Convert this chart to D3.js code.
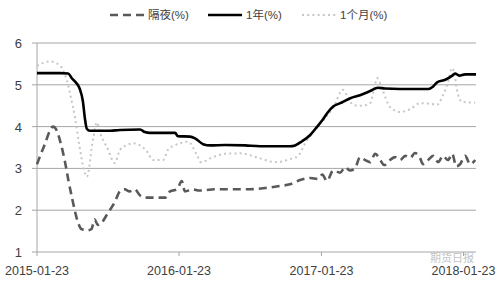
<!DOCTYPE html>
<html>
<head>
<meta charset="utf-8">
<script src="https://cdn.jsdelivr.net/npm/d3@7"></script>
<style>
  html, body { margin: 0; background: #fff; }
  text { font-family: "Liberation Sans", "Noto Sans CJK SC", sans-serif; fill: #404040; }
</style>
</head>
<body>
<script>
const width = 500;
const height = 286;

// series
const overnightDates = ['2015-01-23','2015-01-31','2015-02-13','2015-02-25','2015-03-05','2015-03-15','2015-03-25','2015-04-04','2015-04-14','2015-04-24','2015-05-07','2015-05-17','2015-06-02','2015-06-12','2015-06-20','2015-06-28','2015-07-08','2015-07-22','2015-08-11','2015-08-24','2015-09-05','2015-09-18','2015-10-01','2015-10-15','2015-10-27','2015-12-18','2015-12-31','2016-01-18','2016-01-30','2016-02-07','2016-02-27','2016-03-15','2016-04-23','2016-06-01','2016-07-22','2016-08-31','2016-10-08','2016-11-03','2016-11-29','2016-12-25','2017-01-14','2017-01-25','2017-02-06','2017-02-22','2017-03-12','2017-03-25','2017-04-06','2017-04-19','2017-05-02','2017-05-15','2017-05-28','2017-06-10','2017-06-23','2017-07-03','2017-07-18','2017-07-31','2017-08-13','2017-08-26','2017-09-08','2017-09-20','2017-10-03','2017-10-11','2017-10-24','2017-11-06','2017-11-19','2017-12-01','2017-12-14','2017-12-25','2018-01-04','2018-01-14','2018-01-27','2018-02-09','2018-02-22'];
const overnight = [3.1,3.3,3.6,3.9,4.0,3.9,3.6,3.2,2.7,2.25,1.75,1.55,1.52,1.55,1.78,1.65,1.7,1.9,2.2,2.45,2.5,2.45,2.5,2.35,2.3,2.3,2.45,2.5,2.7,2.45,2.5,2.47,2.5,2.5,2.5,2.53,2.58,2.62,2.72,2.77,2.75,2.85,2.7,2.95,2.9,3.03,2.95,3.0,3.27,3.2,3.15,3.35,3.2,3.08,3.2,3.27,3.2,3.3,3.25,3.37,3.25,3.1,3.2,3.3,3.15,3.3,3.2,3.35,3.05,3.1,3.3,3.1,3.2];

const oneYearDates = ['2015-01-23','2015-03-23','2015-04-13','2015-04-23','2015-05-06','2015-05-13','2015-05-21','2015-05-26','2015-05-31','2015-06-08','2015-07-30','2015-08-24','2015-10-15','2015-10-27','2015-11-09','2016-01-13','2016-01-20','2016-02-20','2016-03-04','2016-03-25','2016-04-12','2016-05-20','2016-07-11','2016-08-18','2016-11-03','2016-11-16','2016-12-04','2016-12-25','2017-01-12','2017-01-25','2017-02-09','2017-02-22','2017-03-12','2017-04-07','2017-05-02','2017-05-28','2017-06-17','2017-07-05','2017-08-13','2017-10-24','2017-11-06','2017-11-16','2017-12-07','2017-12-25','2018-01-01','2018-01-12','2018-01-27','2018-02-24'];
const oneYear = [5.28,5.28,5.27,5.15,5.02,4.9,4.6,4.2,3.95,3.9,3.9,3.92,3.93,3.87,3.85,3.85,3.77,3.76,3.72,3.58,3.55,3.56,3.55,3.53,3.53,3.55,3.65,3.8,4.0,4.15,4.35,4.48,4.56,4.68,4.75,4.85,4.93,4.91,4.9,4.9,4.96,5.06,5.12,5.22,5.27,5.22,5.25,5.25];

const oneMonthDates = ['2015-01-23','2015-02-07','2015-02-25','2015-03-13','2015-03-28','2015-04-10','2015-04-20','2015-05-01','2015-05-11','2015-05-24','2015-05-31','2015-06-16','2015-06-26','2015-07-04','2015-07-22','2015-08-11','2015-08-24','2015-09-11','2015-09-27','2015-10-15','2015-11-02','2015-11-17','2015-12-13','2015-12-26','2016-01-26','2016-02-15','2016-03-09','2016-03-19','2016-04-19','2016-05-20','2016-06-28','2016-08-18','2016-09-26','2016-11-03','2016-11-24','2016-12-12','2017-01-06','2017-02-01','2017-02-22','2017-03-19','2017-04-01','2017-04-14','2017-05-07','2017-05-28','2017-06-07','2017-06-15','2017-06-28','2017-07-18','2017-08-13','2017-09-08','2017-10-03','2017-10-29','2017-11-16','2017-12-01','2017-12-12','2017-12-25','2018-01-01','2018-01-06','2018-01-19','2018-02-04','2018-02-22'];
const oneMonth = [5.45,5.52,5.56,5.52,5.4,5.1,4.7,4.2,3.6,2.95,2.8,3.7,4.1,3.85,3.5,3.13,3.44,3.56,3.6,3.55,3.4,3.2,3.2,3.45,3.6,3.64,3.32,3.15,3.27,3.35,3.36,3.24,3.15,3.22,3.3,3.6,3.92,4.2,4.45,4.88,4.7,4.52,4.5,4.56,4.9,5.16,4.9,4.47,4.35,4.42,4.56,4.55,4.52,4.75,5.0,5.4,5.2,4.88,4.59,4.58,4.57];

const xTicks = ['2015-01-23', '2016-01-23', '2017-01-23', '2018-01-23'];
const yTicks = [1, 2, 3, 4, 5, 6];
const legendNames = ['隔夜(%)', '1年(%)', '1个月(%)'];

const parse = d3.timeParse('%Y-%m-%d');

const svg = d3.select('body').append('svg')
  .attr('width', width)
  .attr('height', height);

const x = d3.scaleTime()
  .domain([parse('2015-01-23'), parse('2018-02-24')])
  .range([37, 476]);

const y = d3.scaleLinear().domain([1, 6]).range([252, 43]);

// gridlines
svg.append('g')
  .selectAll('line')
  .data(yTicks)
  .join('line')
  .attr('x1', 32)
  .attr('x2', 476)
  .attr('y1', d => y(d))
  .attr('y2', d => y(d))
  .attr('stroke', '#a6a6a6')
  .attr('stroke-width', 1);

// y axis line
svg.append('line')
  .attr('x1', 37).attr('x2', 37)
  .attr('y1', y(6)).attr('y2', y(1))
  .attr('stroke', '#a6a6a6');

svg.append('g')
  .selectAll('text')
  .data(yTicks)
  .join('text')
  .attr('x', 22)
  .attr('y', d => y(d) + 5)
  .attr('text-anchor', 'end')
  .style('font-size', '13px')
  .text(d => d);

// watermark (sits behind the axis labels, as in the picture)
svg.append('text')
  .attr('x', 452)
  .attr('y', 262)
  .attr('text-anchor', 'middle')
  .style('font-size', '11px')
  .style('fill', '#c4c4c4')
  .text('期货日报');

// x axis ticks + labels
const xg = svg.append('g');
xg.selectAll('line')
  .data(xTicks)
  .join('line')
  .attr('x1', d => x(parse(d)))
  .attr('x2', d => x(parse(d)))
  .attr('y1', y(1))
  .attr('y2', y(1) + 4)
  .attr('stroke', '#a6a6a6');
xg.selectAll('text')
  .data(xTicks)
  .join('text')
  .attr('x', d => x(parse(d)))
  .attr('y', 275)
  .attr('text-anchor', 'middle')
  .style('font-size', '12.5px')
  .text(d => d);

const line = d3.line()
  .x(d => x(d[0]))
  .y(d => y(d[1]))
  .curve(d3.curveMonotoneX);

const pair = (dates, vals) => dates.map((d, i) => [parse(d), vals[i]]);

const monthDash = '2,3.2';
const styles = [
  { data: pair(oneMonthDates, oneMonth), stroke: '#c6c6c6', width: 2, dash: monthDash },
  { data: pair(overnightDates, overnight), stroke: '#595959', width: 2.6, dash: '8,5' },
  { data: pair(oneYearDates, oneYear), stroke: '#000', width: 2.6, dash: null }
];

styles.forEach(s => {
  svg.append('path')
    .datum(s.data)
    .attr('d', line)
    .attr('fill', 'none')
    .attr('stroke', s.stroke)
    .attr('stroke-width', s.width)
    .attr('stroke-dasharray', s.dash)
    .attr('stroke-linejoin', 'round');
});

// legend
const legend = [
  { x: 110, stroke: '#595959', dash: '8,5', width: 2.6 },
  { x: 208, stroke: '#000', dash: null, width: 2.6 },
  { x: 302, stroke: '#c6c6c6', dash: monthDash, width: 2 }
];
const lg = svg.append('g');
legend.forEach((l, i) => {
  lg.append('line')
    .attr('x1', l.x).attr('x2', l.x + 34)
    .attr('y1', 15).attr('y2', 15)
    .attr('stroke', l.stroke)
    .attr('stroke-width', l.width)
    .attr('stroke-dasharray', l.dash);
  lg.append('text')
    .attr('x', l.x + 38)
    .attr('y', 19)
    .style('font-size', '11.5px')
    .text(legendNames[i]);
});
</script>
</body>
</html>
